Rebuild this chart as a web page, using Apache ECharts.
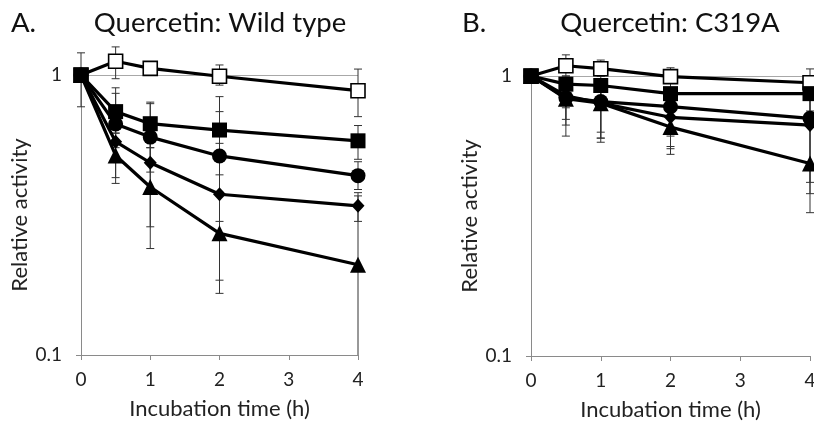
<!DOCTYPE html>
<html>
<head>
<meta charset="utf-8">
<script src="https://cdn.jsdelivr.net/npm/echarts@6/dist/echarts.min.js"></script>
<style>
  html, body { margin: 0; padding: 0; background: #fff; }
  #chart { width: 814px; height: 421px; }
</style>
</head>
<body>
<div id="chart"></div>
<script>
// Tiempos de incubación (h)
const times = [0, 0.5, 1, 2, 4];

// Panel A: tipo silvestre (medias)
const wtOpenSq   = [1, 1.12, 1.056, 0.99, 0.879];
const wtSquare   = [1, 0.74, 0.67, 0.636, 0.582];
const wtCircle   = [1, 0.668, 0.60, 0.514, 0.437];
const wtDiamond  = [1, 0.578, 0.486, 0.375, 0.341];
const wtTriangle = [1, 0.516, 0.398, 0.272, 0.21];

// Panel A: barras de error [bajo, alto]
const wtOpenSqErr   = [[1, 1], [0.97, 1.26], [1.02, 1.09], [0.92, 1.086], [0.71, 1.05]];
const wtSquareErr   = [[1, 1], [0.62, 0.90], [0.55, 0.80], [0.44, 0.837], [0.50, 0.66]];
const wtCircleErr   = [[1, 1], [0.55, 0.86], [0.45, 0.79], [0.30, 0.74], [0.39, 0.49]];
const wtDiamondErr  = [[1, 1], [0.43, 0.72], [0.287, 0.68], [0.185, 0.57], [0.30, 0.38]];
const wtTriangleErr = [[0.77, 1.2], [0.41, 0.62], [0.24, 0.55], [0.166, 0.38], [0.05, 0.37]];

// Panel B: C319A (medias)
const mtOpenSq   = [1, 1.088, 1.062, 0.995, 0.946];
const mtSquare   = [1, 0.935, 0.925, 0.865, 0.865];
const mtCircle   = [1, 0.837, 0.81, 0.777, 0.706];
const mtDiamond  = [1, 0.85, 0.80, 0.712, 0.668];
const mtTriangle = [1, 0.83, 0.80, 0.657, 0.487];

// Panel B: barras de error [bajo, alto]
const mtOpenSqErr   = [[1, 1], [1.0, 1.19], [1.0, 1.14], [0.95, 1.07], [0.9, 1.06]];
const mtSquareErr   = [[1, 1], [0.77, 1.0], [0.63, 1.0], [0.61, 0.95], [0.75, 0.95]];
const mtCircleErr   = [[1, 1], [0.668, 0.95], [0.60, 0.95], [0.56, 0.9], [0.417, 0.9]];
const mtDiamondErr  = [[1, 1], [0.61, 0.95], [0.58, 0.9], [0.525, 0.85], [0.38, 0.85]];
const mtTriangleErr = [[1, 1], [0.7, 0.9], [0.6, 0.9], [0.55, 0.8], [0.325, 0.7]];

const FONT = 'Lato';
const AXIS_GRAY = '#8a8a8a';

// Estilos de marcadores
const estilos = {
  openSq:   { symbol: 'rect', symbolSize: 14, itemStyle: { color: '#fff', borderColor: '#000', borderWidth: 1.6 } },
  triangle: { symbol: 'triangle', symbolSize: 16, itemStyle: { color: '#000' } },
  diamond:  { symbol: 'diamond', symbolSize: [13, 14], itemStyle: { color: '#000' } },
  circle:   { symbol: 'circle', symbolSize: 15, itemStyle: { color: '#000' } },
  square:   { symbol: 'rect', symbolSize: 15, itemStyle: { color: '#000' } }
};

// Dibuja una barra de error vertical con topes
function dibujarError(params, api) {
  const x = api.value(0), lo = api.value(1), hi = api.value(2);
  if (lo === hi) return null;
  const cs = params.coordSys;
  const pLo = api.coord([x, lo]);
  const pHi = api.coord([x, hi]);
  const bottom = cs.y + cs.height;
  let yLo = pLo[1];
  const recortado = yLo > bottom;
  if (recortado) yLo = bottom;
  const px = pLo[0], w = 4;
  const st = { stroke: '#333', lineWidth: 1 };
  const hijos = [
    { type: 'line', shape: { x1: px, y1: pHi[1], x2: px, y2: yLo }, style: st },
    { type: 'line', shape: { x1: px - w, y1: pHi[1], x2: px + w, y2: pHi[1] }, style: st }
  ];
  if (!recortado) hijos.push({ type: 'line', shape: { x1: px - w, y1: yLo, x2: px + w, y2: yLo }, style: st });
  return { type: 'group', children: hijos };
}

function crearSeries(idx, lista) {
  const out = [];
  lista.forEach(([clave, medias, errores]) => {
    out.push({
      type: 'custom',
      xAxisIndex: idx, yAxisIndex: idx,
      renderItem: dibujarError,
      clip: false,
      z: 1,
      data: times.map((t, i) => [t, errores[i][0], errores[i][1]])
    });
  });
  lista.forEach(([clave, medias]) => {
    out.push(Object.assign({
      type: 'line',
      xAxisIndex: idx, yAxisIndex: idx,
      clip: false,
      z: 3,
      lineStyle: { color: '#000', width: 3.2 },
      data: times.map((t, i) => [t, medias[i]])
    }, estilos[clave]));
  });
  return out;
}

function ejeX(idx) {
  return {
    gridIndex: idx, type: 'value', min: 0, max: 4, interval: 1,
    name: 'Incubation time (h)', nameLocation: 'middle', nameGap: 43,
    nameTextStyle: { fontFamily: FONT, fontSize: 22, color: '#222' },
    axisLine: { lineStyle: { color: AXIS_GRAY, width: 1 } },
    axisTick: { length: 5, lineStyle: { color: AXIS_GRAY } },
    axisLabel: { margin: 15, fontFamily: FONT, fontSize: 19, color: '#222' },
    splitLine: { show: false }
  };
}

function ejeY(idx) {
  return {
    gridIndex: idx, type: 'log', logBase: 10, min: 0.1, max: 1,
    name: 'Relative activity', nameLocation: 'middle', nameGap: 50,
    nameTextStyle: { fontFamily: FONT, fontSize: 22, color: '#222' },
    axisLine: { show: true, lineStyle: { color: AXIS_GRAY, width: 1 } },
    axisTick: { show: true, length: 5, lineStyle: { color: AXIS_GRAY } },
    axisLabel: { margin: 19, fontFamily: FONT, fontSize: 19, color: '#222',
      formatter: v => String(+(+v).toPrecision(3)) },
    splitLine: { show: true, lineStyle: { color: '#a8a8a8', width: 1 } },
    minorTick: { show: false }
  };
}

const chart = echarts.init(document.getElementById('chart'));
chart.setOption({
  animation: false,
  backgroundColor: '#fff',
  grid: [
    { left: 81, top: 75, width: 277, height: 280, outerBoundsMode: 'none' },
    { left: 531, top: 76, width: 279, height: 280, outerBoundsMode: 'none' }
  ],
  xAxis: [ejeX(0), ejeX(1)],
  yAxis: [ejeY(0), ejeY(1)],
  graphic: [
    { type: 'text', left: 11, top: 9, style: { text: 'A.', fontFamily: FONT, fontSize: 27.5, fill: '#111' } },
    { type: 'text', x: 220, y: 9, style: { text: 'Quercetin: Wild type', fontFamily: FONT, fontSize: 27.5, fill: '#111', textAlign: 'center' } },
    { type: 'text', left: 462, top: 9, style: { text: 'B.', fontFamily: FONT, fontSize: 27.5, fill: '#111' } },
    { type: 'text', x: 670, y: 9, style: { text: 'Quercetin: C319A', fontFamily: FONT, fontSize: 27.5, fill: '#111', textAlign: 'center' } }
  ],
  series: [
    ...crearSeries(0, [
      ['openSq', wtOpenSq, wtOpenSqErr],
      ['triangle', wtTriangle, wtTriangleErr],
      ['diamond', wtDiamond, wtDiamondErr],
      ['circle', wtCircle, wtCircleErr],
      ['square', wtSquare, wtSquareErr]
    ]),
    ...crearSeries(1, [
      ['openSq', mtOpenSq, mtOpenSqErr],
      ['triangle', mtTriangle, mtTriangleErr],
      ['diamond', mtDiamond, mtDiamondErr],
      ['circle', mtCircle, mtCircleErr],
      ['square', mtSquare, mtSquareErr]
    ])
  ]
});
</script>
</body>
</html>
